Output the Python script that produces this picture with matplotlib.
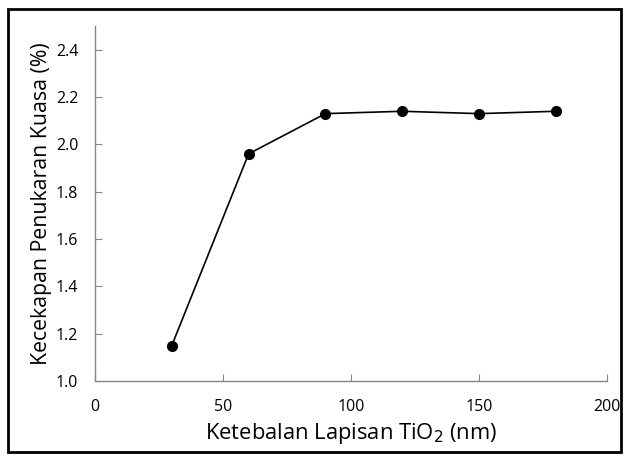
import matplotlib
matplotlib.use('Agg')
import matplotlib.pyplot as plt
from matplotlib.patches import Rectangle

# Data
thickness = [30, 60, 90, 120, 150, 180]
efficiency = [1.15, 1.96, 2.13, 2.14, 2.13, 2.14]
x_ticks = [0, 50, 100, 150, 200]
y_ticks = [1.0, 1.2, 1.4, 1.6, 1.8, 2.0, 2.2, 2.4]

plt.rcParams['font.family'] = ['Open Sans', 'DejaVu Sans']

fig = plt.figure(figsize=(6.29, 4.57), dpi=100)
ax = fig.add_axes([0.151, 0.166, 0.814, 0.777])

ax.plot(thickness, efficiency, color='black', linewidth=1.2,
        marker='o', markersize=7, markerfacecolor='black')

ax.set_xlim(0, 200)
ax.set_ylim(1.0, 2.5)
ax.set_xticks(x_ticks)
ax.set_yticks(y_ticks)
ax.set_yticklabels([f'{v:.1f}' for v in y_ticks])

# Excel-like axes: only left and bottom, gray, ticks inside
for side in ['top', 'right']:
    ax.spines[side].set_visible(False)
for side in ['left', 'bottom']:
    ax.spines[side].set_color('#868686')
    ax.spines[side].set_linewidth(1.0)
ax.tick_params(direction='in', length=5, color='#868686', labelsize=11.5)
ax.tick_params(axis='y', pad=12)
ax.tick_params(axis='x', pad=13)

ax.set_xlabel('Ketebalan Lapisan TiO$_2$ (nm)', fontsize=15.8, labelpad=4)
ax.set_ylabel('Kecekapan Penukaran Kuasa (%)', fontsize=15.3, labelpad=3)

# Chart-area border
fig.patches.append(Rectangle((0.013, 0.011), 0.974, 0.969, transform=fig.transFigure,
                             fill=False, edgecolor='black', linewidth=2))

fig.savefig('out.png', dpi=100)
